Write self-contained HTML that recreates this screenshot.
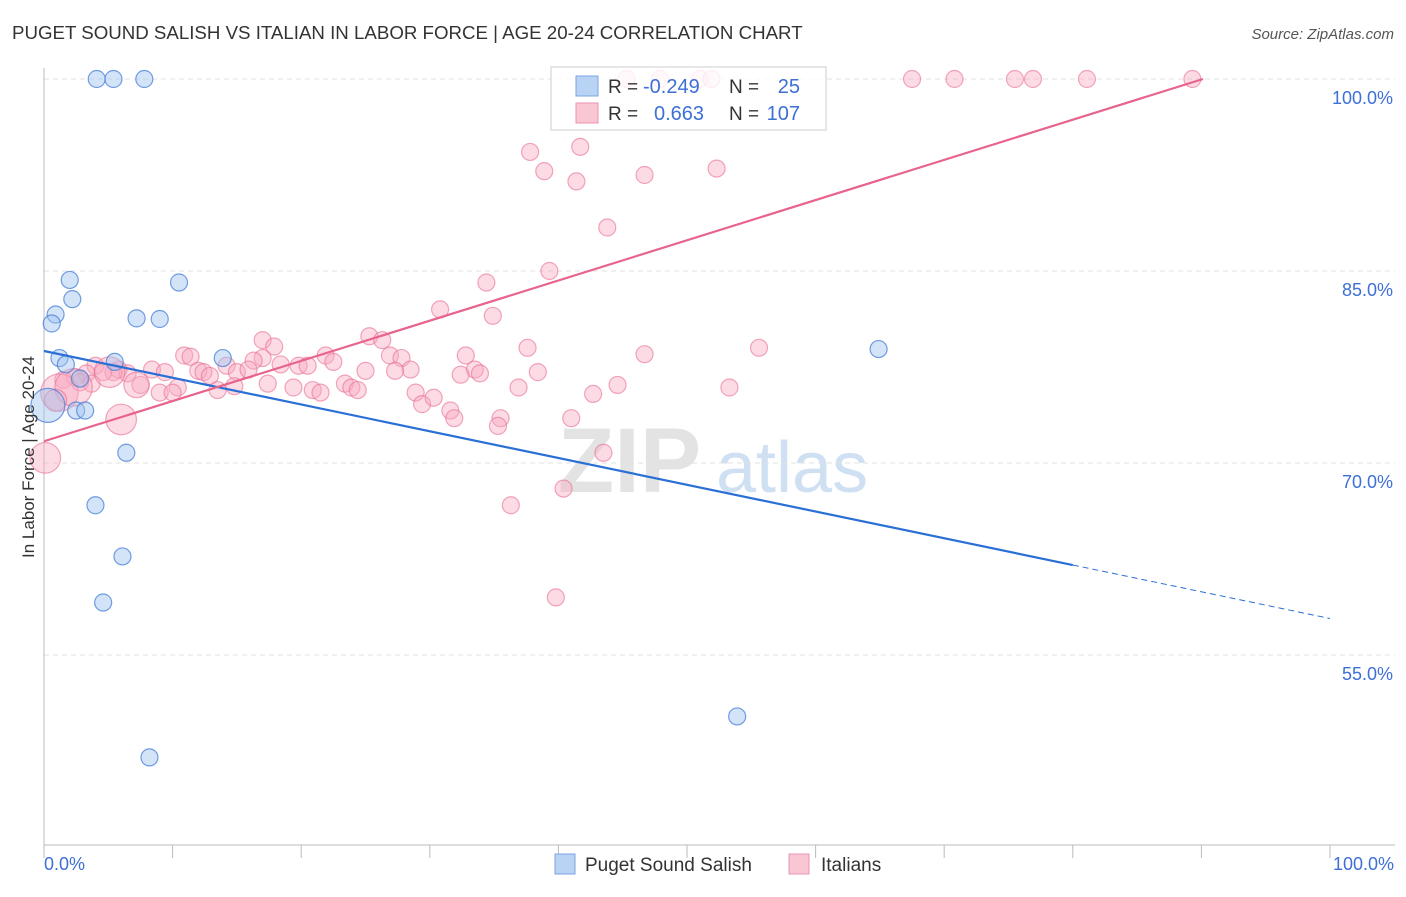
<!DOCTYPE html>
<html><head><meta charset="utf-8"><style>
body{margin:0;background:#fff;font-family:"Liberation Sans",sans-serif;}
svg text{font-family:"Liberation Sans",sans-serif;}
</style></head><body>
<svg id="chart" width="1406" height="892" xmlns="http://www.w3.org/2000/svg">
<text x="12" y="39" font-size="18.7" fill="#333">PUGET SOUND SALISH VS ITALIAN IN LABOR FORCE | AGE 20-24 CORRELATION CHART</text>
<text x="1394" y="39" font-size="15" fill="#555" font-style="italic" text-anchor="end">Source: ZipAtlas.com</text>
<g>
<text x="558" y="492" font-size="92" fill="#e3e3e3" font-family="Liberation Serif" font-weight="bold">ZIP</text>
<text x="716" y="492" font-size="72" fill="#cfe0f3">atlas</text>
</g>
<g id="grid"></g>
<g id="axes"></g>
<g id="pink"></g>
<g id="blue"></g>
<g id="trends"></g>
<text transform="translate(34,457) rotate(-90)" font-size="17" fill="#333" text-anchor="middle">In Labor Force | Age 20-24</text>
<g>
<rect x="551" y="67" width="275" height="63" fill="#fff" fill-opacity="0.82" stroke="#ddd" stroke-width="1.5"/>
<rect x="576" y="76" width="22" height="20" fill="#b9d3f5" stroke="#7aa6e0"/>
<rect x="576" y="103" width="22" height="20" fill="#f9c6d4" stroke="#eb94ad"/>
<text x="608" y="93" font-size="19" fill="#333">R =</text>
<text x="643" y="93" font-size="20" fill="#3d6fd6">-0.249</text>
<text x="729" y="93" font-size="19" fill="#333">N =</text>
<text x="800" y="93" font-size="20" fill="#3d6fd6" text-anchor="end">25</text>
<text x="608" y="120" font-size="19" fill="#333">R =</text>
<text x="654" y="120" font-size="20" fill="#3d6fd6">0.663</text>
<text x="729" y="120" font-size="19" fill="#333">N =</text>
<text x="800" y="120" font-size="20" fill="#3d6fd6" text-anchor="end">107</text>
</g>
<g>
<rect x="555" y="854" width="20" height="20" fill="#b9d3f5" stroke="#7aa6e0"/>
<text x="585" y="871" font-size="19" fill="#333">Puget Sound Salish</text>
<rect x="789" y="854" width="20" height="20" fill="#f9c6d4" stroke="#eb94ad"/>
<text x="821" y="871" font-size="19" fill="#333">Italians</text>
</g>
</svg>
<script>
const yTicks=[100,85,70,55];
const yTickLabels=["100.0%","85.0%","70.0%","55.0%"];
const xTickLabels=["0.0%","100.0%"];
const blueX=[4.1,5.4,7.8,2.0,2.2,0.9,0.6,10.5,7.2,9.0,1.2,1.7,2.8,5.5,13.9,2.5,3.2,6.4,4.0,6.1,4.6,8.2,53.9,64.9,0.3];
const blueY=[100,100,100,84.3,82.8,81.6,80.9,84.1,81.3,81.25,78.2,77.7,76.6,77.9,78.2,74.1,74.1,70.8,66.7,62.7,59.1,47.0,50.2,78.9,74.5];
const blueS=[1,1,1,1,1,1,1,1,1,1,1,1,1,1,1,1,1,1,1,1,1,1,1,1,2];
const pinkX=[45.3,47.9,51.0,51.9,67.5,70.8,75.5,76.9,81.1,89.3,37.8,41.7,38.9,41.4,46.7,52.3,43.8,39.3,34.4,30.8,34.9,25.3,26.3,37.6,32.8,46.7,55.6,17.0,17.9,10.9,11.4,21.9,22.5,26.9,27.8,17.0,14.2,16.3,18.4,19.8,20.5,28.5,27.3,25.0,33.5,33.9,38.4,32.4,12.0,12.4,12.9,15.0,15.9,8.4,9.4,5.8,6.5,5.4,4.0,4.6,3.3,2.4,1.5,2.8,3.7,7.5,10.4,9.0,10.0,13.5,14.8,17.4,19.4,20.9,21.5,23.4,23.9,24.4,36.9,44.6,42.7,53.3,28.9,29.4,30.3,31.6,31.9,35.5,35.3,41.0,43.5,40.4,36.3,39.8,1.2,2.3,0.1,6.0,0.9,7.2,5.1];
const pinkY=[100,100,100,100,100,100,100,100,100,100,94.3,94.7,92.8,92.0,92.5,93.0,88.4,85.0,84.1,82.0,81.5,79.9,79.6,79.0,78.4,78.5,79.0,79.6,79.1,78.4,78.3,78.4,77.9,78.4,78.2,78.2,77.6,78.0,77.7,77.6,77.6,77.3,77.2,77.2,77.3,77.0,77.1,76.9,77.2,77.1,76.8,77.1,77.3,77.3,77.1,77.3,77.0,77.1,77.6,77.1,77.0,76.7,76.5,76.3,76.2,76.1,75.9,75.5,75.5,75.7,76.0,76.2,75.9,75.7,75.5,76.2,75.9,75.7,75.9,76.1,75.4,75.9,75.5,74.6,75.1,74.1,73.5,73.5,72.9,73.5,70.8,68.0,66.7,59.5,75.5,75.9,70.4,73.4,74.9,76.1,77.1];
const pinkS=pinkX.map((_,i)=>[2.2,2.2,1.8,1.8,1.3,1.5,1.8][i-94]||1);
const blueTrend=[78.75,-0.209]; // intercept, slope
const pinkTrend=[71.7,0.314];
const NS='http://www.w3.org/2000/svg';
const X=p=>44+p*12.86, Y=v=>79+(100-v)*12.8;
function mk(tag,attrs,parent){const e=document.createElementNS(NS,tag);for(const k in attrs)e.setAttribute(k,attrs[k]);parent.appendChild(e);return e;}
const grid=document.getElementById('grid'),axes=document.getElementById('axes');
yTicks.forEach((t,i)=>{
 const l=mk('line',{x1:44,x2:1395,y1:Y(t),y2:Y(t),stroke:'#e2e2e2','stroke-dasharray':'5,4'},grid);
 
 
 const tx=mk('text',{x:1393,y:Y(t)+25,'font-size':18,fill:'#3d6fd6','text-anchor':'end'},axes);
 tx.textContent=yTickLabels[i];
 
 
});
mk('line',{x1:44,x2:44,y1:68,y2:845,stroke:'#bbb'},axes);
mk('line',{x1:44,x2:1395,y1:845,y2:845,stroke:'#bbb'},axes);
for(let i=0;i<=10;i++){const t=mk('line',{x1:X(i*10),x2:X(i*10),y1:845,y2:858,stroke:'#bbb'},axes);
 
 }
[[0,'start',44],[100,'end',1394]].forEach((d,i)=>{const t=mk('text',{x:d[2],y:870,'font-size':18,fill:'#3d6fd6','text-anchor':d[1]},axes);t.textContent=xTickLabels[i];
 
 });
function dots(xs,ys,ss,g,fill,stroke,name){xs.forEach((x,i)=>{const c=mk('circle',{cx:X(x),cy:Y(ys[i]),r:8.5*ss[i],fill:fill,stroke:stroke,'stroke-width':1.2},g);
 
 });}
dots(pinkX,pinkY,pinkS,document.getElementById('pink'),'rgba(247,170,193,0.42)','rgba(232,110,145,0.6)','italians-point');
dots(blueX,blueY,blueS,document.getElementById('blue'),'rgba(160,195,240,0.45)','rgba(70,125,215,0.75)','puget-point');
const tr=document.getElementById('trends');
const f=(t,x)=>t[0]+t[1]*x;
const b1=mk('line',{x1:X(0),y1:Y(f(blueTrend,0)),x2:X(80),y2:Y(f(blueTrend,80)),stroke:'#2a6fd6','stroke-width':2.2},tr);


const b2=mk('line',{x1:X(80),y1:Y(f(blueTrend,80)),x2:X(100),y2:Y(f(blueTrend,100)),stroke:'#2a6fd6','stroke-width':1,'stroke-dasharray':'6,4'},tr);


const pe=(100-pinkTrend[0])/pinkTrend[1];
const p1=mk('line',{x1:X(0),y1:Y(f(pinkTrend,0)),x2:X(pe),y2:Y(100),stroke:'#e8648c','stroke-width':2.2},tr);


</script>
</body></html>
